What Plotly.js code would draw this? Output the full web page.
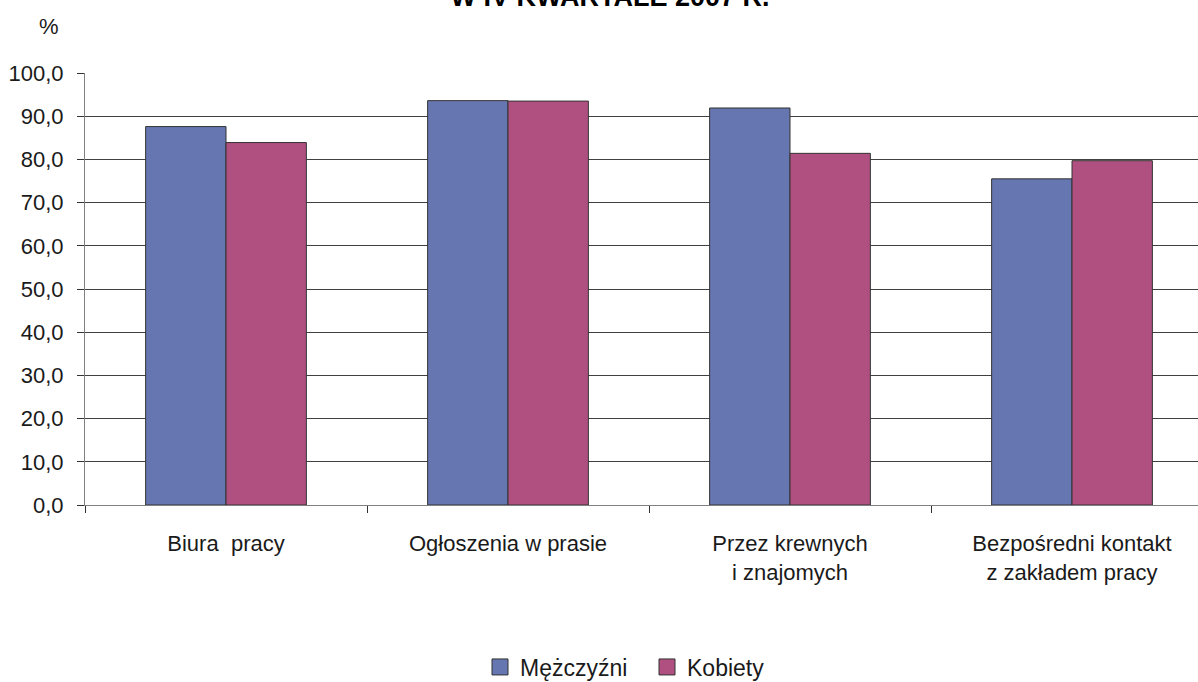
<!DOCTYPE html>
<html>
<head>
<meta charset="utf-8">
<script src="https://cdn.plot.ly/plotly-3.0.1.min.js"></script>
<style>
html, body { margin: 0; padding: 0; overflow: hidden; width: 1198px; height: 682px; background: #fff; }
#chart { position: absolute; left: 0; top: -20px; width: 1230px; height: 702px; }
</style>
</head>
<body>
<div id="chart"></div>
<script>
const categories = ["Biura  pracy", "Ogłoszenia w prasie", "Przez krewnych<br>i znajomych", "Bezpośredni kontakt<br>z zakładem pracy"];
const seriesNames = ["Mężczyźni", "Kobiety"];
const valuesMen = [87.6, 93.6, 91.9, 75.5];
const valuesWomen = [83.9, 93.5, 81.4, 79.7];
const yTicks = [0, 10, 20, 30, 40, 50, 60, 70, 80, 90, 100];
const titleText = "W IV KWARTALE 2007 R.";
const unitLabel = "%";

const FONT = "Liberation Sans, Arial, sans-serif";
const TXT = "#1a1a1a";
const colors = ["#6676B0", "#B05080"];

const traces = [
  {
    type: "bar", name: seriesNames[0], x: categories, y: valuesMen, showlegend: false,
    marker: { color: colors[0], line: { color: "#333333", width: 1 } }
  },
  {
    type: "bar", name: seriesNames[1], x: categories, y: valuesWomen, showlegend: false,
    marker: { color: colors[1], line: { color: "#333333", width: 1 } }
  },
  {
    type: "scatter", mode: "markers", name: seriesNames[0], x: [null], y: [null],
    marker: { symbol: "square", size: 16, color: colors[0], line: { color: "#333", width: 1 } }
  },
  {
    type: "scatter", mode: "markers", name: seriesNames[1], x: [null], y: [null],
    marker: { symbol: "square", size: 16, color: colors[1], line: { color: "#333", width: 1 } }
  }
];

const layout = {
  width: 1230, height: 702,
  margin: { l: 85, r: 17, t: 93, b: 177 },
  paper_bgcolor: "#ffffff", plot_bgcolor: "#ffffff",
  font: { family: FONT, size: 22, color: TXT },
  separators: ",.",
  barmode: "group", bargap: 0.43, bargroupgap: 0,
  title: {
    text: "<b>" + titleText + "</b>",
    font: { family: FONT, size: 27, color: "#000" },
    xref: "container", x: 610 / 1230, xanchor: "center",
    yref: "container", y: 1 - 17 / 702, yanchor: "middle"
  },
  showlegend: true,
  legend: {
    orientation: "h", xref: "container", x: 480 / 1230, xanchor: "left",
    yref: "container", y: 1 - 687 / 702, yanchor: "middle",
    font: { family: FONT, size: 23, color: TXT },
    itemsizing: "trace", traceorder: "normal",
    entrywidth: 122, entrywidthmode: "pixels"
  },
  xaxis: {
    type: "category",
    showline: true, linecolor: "#808080", linewidth: 1,
    ticks: "outside", tickson: "boundaries", ticklen: 7, tickcolor: "#333",
    showgrid: false, zeroline: false,
    tickfont: { family: FONT, size: 22, color: TXT },
    ticklabelstandoff: 19
  },
  yaxis: {
    range: [0, 100], tickvals: yTicks, tickformat: ".1f",
    showline: true, linecolor: "#808080", linewidth: 1,
    ticks: "outside", ticklen: 7, tickcolor: "#333",
    showgrid: true, gridcolor: "#404040", gridwidth: 1,
    zeroline: false,
    tickfont: { family: FONT, size: 22, color: TXT },
    ticklabelstandoff: 9
  },
  annotations: [{
    text: unitLabel, xref: "paper", yref: "paper",
    x: (49 - 85) / 1128, y: 1 + (93 - 46) / 432,
    xanchor: "center", yanchor: "middle", showarrow: false,
    font: { family: FONT, size: 22, color: TXT }
  }]
};

Plotly.newPlot("chart", traces, layout, { displayModeBar: false, staticPlot: true });
</script>
</body>
</html>
